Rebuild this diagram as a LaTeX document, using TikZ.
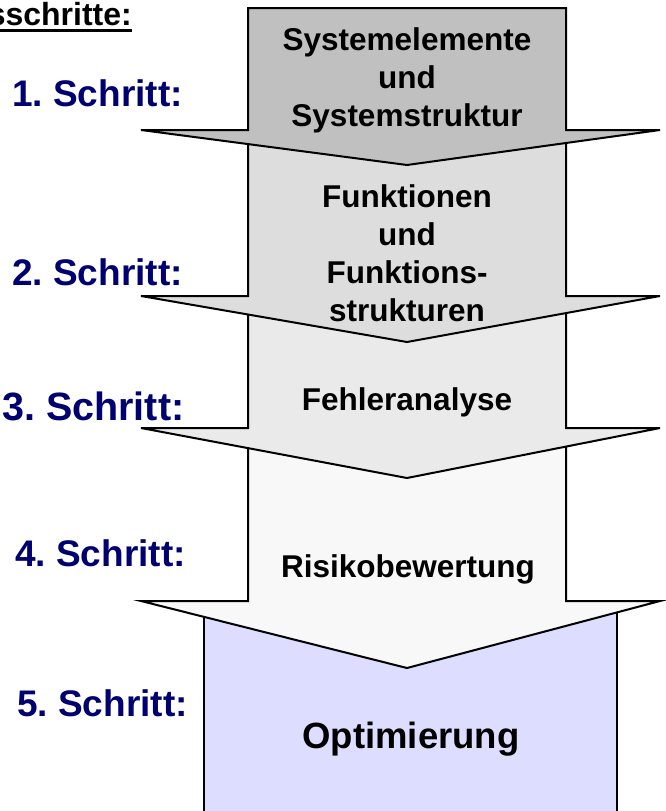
\documentclass[tikz,border=0pt]{standalone}
\usepackage{fontspec}
\setmainfont{Liberation Sans}
\usetikzlibrary{positioning}
\frenchspacing

\definecolor{stepblue}{RGB}{0,0,112}
\definecolor{fillone}{RGB}{192,192,192}
\definecolor{filltwo}{RGB}{221,221,221}
\definecolor{fillthree}{RGB}{234,234,234}
\definecolor{fillfour}{RGB}{248,248,248}
\definecolor{fillfive}{RGB}{221,221,255}

\begin{document}
\begin{tikzpicture}[x=1pt,y=-1pt]
    \tikzstyle{arrowbox} = [draw=black,line width=2pt]
    \tikzstyle{boxtext} = [font=\bfseries\fontsize{31.5}{38}\selectfont,align=center,inner sep=0pt]
    \tikzstyle{steptext} = [font=\bfseries\fontsize{37}{44}\selectfont,text=stepblue,anchor=base west,inner sep=0pt]

    \useasboundingbox (0,0) rectangle (665,811);

    % bottom box first, then the arrows from below to above
    \draw [arrowbox,fill=fillfive] (204,601) rectangle (617,840);
    \draw [arrowbox,fill=fillfour] (248,428) -- (566,428) -- (566,601) -- (660,601) -- (407,668) -- (141,601) -- (248,601) -- cycle;
    \draw [arrowbox,fill=fillthree] (248,296) -- (566,296) -- (566,428) -- (660,428) -- (407,478) -- (141,428) -- (248,428) -- cycle;
    \draw [arrowbox,fill=filltwo] (248,130) -- (566,130) -- (566,296) -- (660,296) -- (407,342) -- (141,296) -- (248,296) -- cycle;
    \draw [arrowbox,fill=fillone] (248,8) -- (566,8) -- (566,130) -- (660,130) -- (407,165) -- (141,130) -- (248,130) -- cycle;

    \node (sys) [boxtext] at (407,80) {Systemelemente\\und\\Systemstruktur};
    \node (fkt) [boxtext] at (407,253) {Funktionen\\und\\Funktions-\\strukturen};
    \node (fehler) [boxtext,anchor=base] at (407,410) {Fehleranalyse};
    \node (risiko) [boxtext,anchor=base] at (408,577) {Risikobewertung};
    \node (opt) [boxtext,anchor=base,font=\bfseries\fontsize{36.5}{44}\selectfont] at (411,748) {Optimierung};

    \node (s1) [steptext] at (12,106) {1. Schritt:};
    \node (s2) [steptext] at (12,285) {2. Schritt:};
    \node (s3) [steptext,font=\bfseries\fontsize{39.5}{46}\selectfont] at (2,420) {3. Schritt:};
    \node (s4) [steptext] at (15,566) {4. Schritt:};
    \node (s5) [steptext] at (17,716) {5. Schritt:};

    \node (hdr) [font=\bfseries\fontsize{32}{38}\selectfont,anchor=base east,inner sep=0pt] at (132,25) {sschritte:};
    \draw [line width=2.4pt] ([yshift=-5.5pt]hdr.base west) -- ([yshift=-5.5pt]hdr.base east);
\end{tikzpicture}
\end{document}
